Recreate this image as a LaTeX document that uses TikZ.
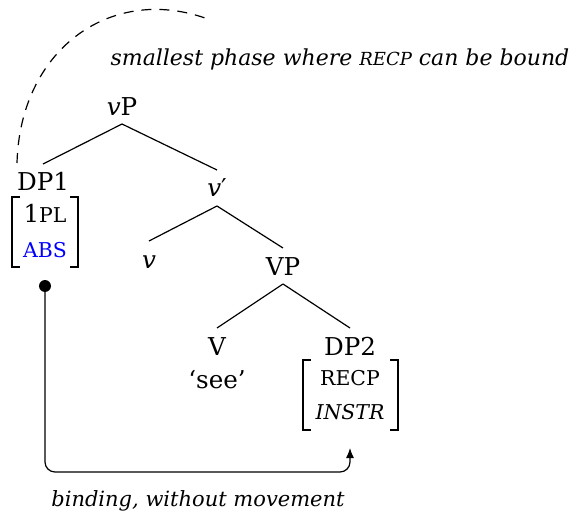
\documentclass[tikz,border=0pt]{standalone}
\usepackage{fontspec}
\setmainfont{DejaVu Serif}
\usetikzlibrary{arrows.meta}
\newcommand\fsc[1]{{\fontsize{10.2}{12}\selectfont #1}}
\newcommand\lsc[1]{{\fontsize{9}{11}\selectfont #1}}
\begin{document}
\begin{tikzpicture}[x=0.5pt,y=-0.5pt,
  font=\fontsize{12.3}{14}\selectfont,
  tnode/.style={anchor=base, inner sep=0pt, outer sep=4.5pt, text height=9pt, text depth=0pt},
  feat/.style={anchor=base, inner sep=0pt},
  branch/.style={line width=0.6pt},
  brk/.style={line width=0.6pt},
  lbl/.style={anchor=base, inner sep=0pt}]
\useasboundingbox (0,0) rectangle (569,514);
% tree nodes
\node[tnode] (vP) at (122,115) {\textit{v}P};
\node[tnode] (DP1) at (43,191) {DP1};
\node[tnode] (vbar) at (217,197) {\textit{v}′};
\node[tnode] (v) at (149,268) {\textit{v}};
\node[tnode] (VP) at (283,275) {VP};
\node[tnode] (V) at (217,355) {V};
\node[tnode] (DP2) at (350,355) {DP2};
\node[feat] (see) at (217,388) {‘see’};
% features
\node[feat] (f1a) at (45,222) {1\fsc{PL}};
\node[feat, text=blue] (f1b) at (45,257) {\fsc{ABS}};
\node[feat] (f2a) at (350,385) {\fsc{RECP}};
\node[feat] (f2b) at (350,419) {\fsc{\itshape INSTR}};
% brackets
\draw[brk] (20,197) -- (12,197) -- (12,267) -- (20,267);
\draw[brk] (70,197) -- (78,197) -- (78,267) -- (70,267);
\draw[brk] (311,360) -- (303,360) -- (303,430) -- (311,430);
\draw[brk] (390,360) -- (398,360) -- (398,430) -- (390,430);
% branches
\draw[branch] (vP.south) -- (DP1.north);
\draw[branch] (vP.south) -- (vbar.north);
\draw[branch] (vbar.south) -- (v.north);
\draw[branch] (vbar.south) -- (VP.north);
\draw[branch] (VP.south) -- (V.north);
\draw[branch] (VP.south) -- (DP2.north);
% dashed phase arc
\coordinate (arcstart) at (17,163);
\coordinate (arcend) at (205,18);
\draw[line width=0.6pt, dash pattern=on 5pt off 4pt] (arcstart) .. controls (20,50) and (110,-15) .. (arcend);
\node[lbl, font=\fontsize{11}{13}\selectfont\itshape] (phase) at (340,65) {smallest phase where \lsc{RECP} can be bound};
% binding arrow
\node[circle, fill=black, inner sep=0pt, minimum size=6pt] (dot) at (45,286) {};
\coordinate (tip) at (350,448);
\draw[line width=0.6pt, rounded corners=5pt, -{Latex[length=5pt,width=4pt]}]
  (dot.center) -- (dot.center |- 0,472) -- (tip |- 0,472) -- (tip);
\node[lbl, font=\fontsize{10.5}{13}\selectfont\itshape] (bind) at (198,506) {binding, without movement};
\end{tikzpicture}
\end{document}
